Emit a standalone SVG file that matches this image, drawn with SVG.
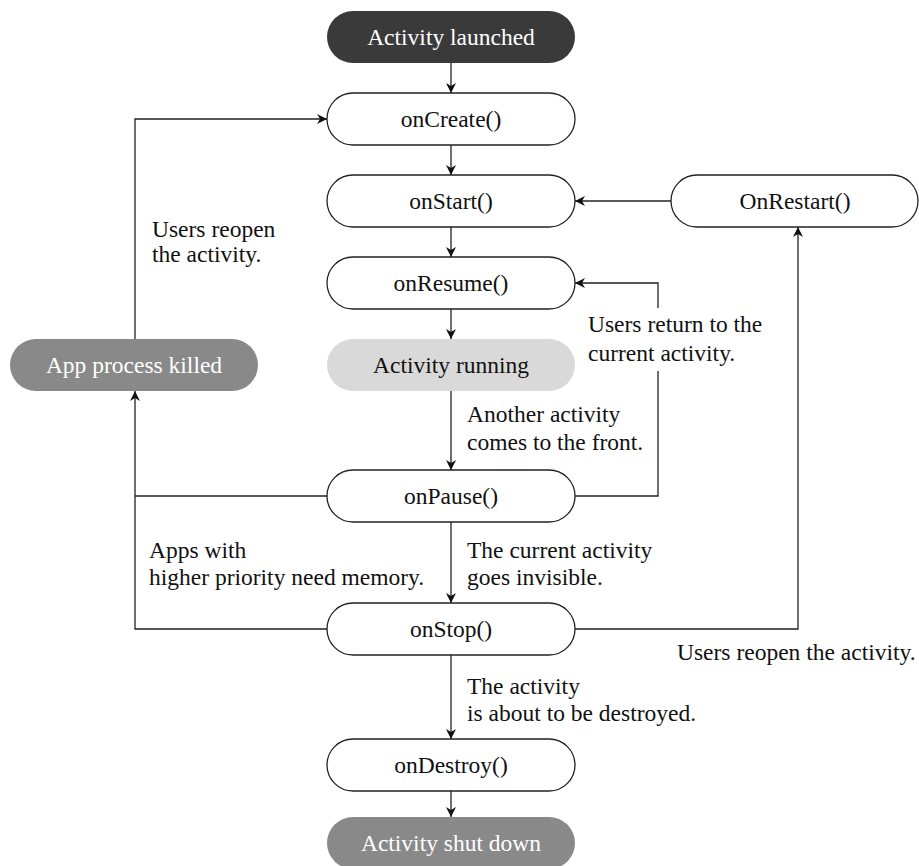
<svg xmlns="http://www.w3.org/2000/svg" width="919" height="866" viewBox="0 0 919 866">
<style>
.box{fill:#fff;stroke:#222;stroke-width:1.3}
.dark{fill:#3a3a3a}
.gray{fill:#898989}
.light{fill:#d9d9d9}
text{font-family:"Liberation Serif","Times New Roman",serif;font-size:23.5px;fill:#111}
.c{text-anchor:middle}
.w{fill:#fff}
.ln{fill:none;stroke:#222;stroke-width:1.3}
</style>
<defs>
<marker id="ah" viewBox="0 0 10 10" refX="10" refY="5" markerWidth="10" markerHeight="10" markerUnits="userSpaceOnUse" orient="auto">
<path d="M0,0 L10,5 L0,10 L3,5 z" fill="#111"/>
</marker>
</defs>
<rect width="919" height="866" fill="#fff"/>
<g id="connectors">
<path class="ln" d="M451,63 V93" marker-end="url(#ah)"/>
<path class="ln" d="M451,145 V175" marker-end="url(#ah)"/>
<path class="ln" d="M451,227 V257" marker-end="url(#ah)"/>
<path class="ln" d="M451,309 V339" marker-end="url(#ah)"/>
<path class="ln" d="M451,391 V470" marker-end="url(#ah)"/>
<path class="ln" d="M451,522 V603" marker-end="url(#ah)"/>
<path class="ln" d="M451,655 V739" marker-end="url(#ah)"/>
<path class="ln" d="M451,791 V817" marker-end="url(#ah)"/>
<path class="ln" d="M671,201 H575" marker-end="url(#ah)"/>
<path class="ln" d="M575,496 H658 V371"/>
<path class="ln" d="M658,308 V283 H575" marker-end="url(#ah)"/>
<path class="ln" d="M575,629 H798 V227" marker-end="url(#ah)"/>
<path class="ln" d="M327,496 H135"/>
<path class="ln" d="M327,629 H135 V391" marker-end="url(#ah)"/>
<path class="ln" d="M135,339 V119 H327" marker-end="url(#ah)"/>
</g>
<g id="n-launched"><rect class="dark" x="327" y="11" width="248" height="52" rx="26"/><text class="c w" x="451" y="45">Activity launched</text></g>
<g id="n-oncreate"><rect class="box" x="327" y="93" width="248" height="52" rx="26"/><text class="c" x="451" y="127">onCreate()</text></g>
<g id="n-onstart"><rect class="box" x="327" y="175" width="248" height="52" rx="26"/><text class="c" x="451" y="209">onStart()</text></g>
<g id="n-onresume"><rect class="box" x="327" y="257" width="248" height="52" rx="26"/><text class="c" x="451" y="291">onResume()</text></g>
<g id="n-running"><rect class="light" x="327" y="339" width="248" height="52" rx="26"/><text class="c" x="451" y="373">Activity running</text></g>
<g id="n-onpause"><rect class="box" x="327" y="470" width="248" height="52" rx="26"/><text class="c" x="451" y="504">onPause()</text></g>
<g id="n-onstop"><rect class="box" x="327" y="603" width="248" height="52" rx="26"/><text class="c" x="451" y="637">onStop()</text></g>
<g id="n-ondestroy"><rect class="box" x="327" y="739" width="248" height="52" rx="26"/><text class="c" x="451" y="773">onDestroy()</text></g>
<g id="n-shutdown"><rect class="gray" x="327" y="817" width="248" height="52" rx="26"/><text class="c w" x="451" y="851">Activity shut down</text></g>
<g id="n-killed"><rect class="gray" x="10" y="339" width="248" height="52" rx="26"/><text class="c w" x="134" y="373">App process killed</text></g>
<g id="n-onrestart"><rect class="box" x="671" y="175" width="247" height="52" rx="26"/><text class="c" x="795" y="209">OnRestart()</text></g>
<g id="labels">
<text x="152" y="237">Users reopen</text>
<text x="152" y="262">the activity.</text>
<text x="588" y="332">Users return to the</text>
<text x="588" y="361">current activity.</text>
<text x="467" y="422">Another activity</text>
<text x="467" y="450">comes to the front.</text>
<text x="149" y="558">Apps with</text>
<text x="149" y="585">higher priority need memory.</text>
<text x="467" y="558">The current activity</text>
<text x="467" y="585">goes invisible.</text>
<text x="677" y="660">Users reopen the activity.</text>
<text x="467" y="694">The activity</text>
<text x="467" y="721">is about to be destroyed.</text>
</g>
</svg>
